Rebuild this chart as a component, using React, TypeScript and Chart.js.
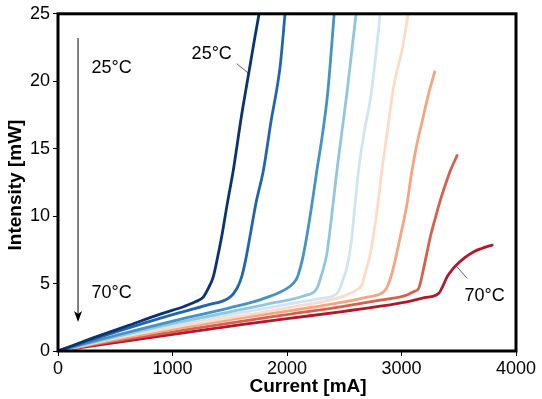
import React, { useEffect, useRef } from "react";
import { Chart, registerables } from "chart.js";

Chart.register(...registerables);

// ---- Data (current in mA, intensity in mW) ----
const seriesLabels = ["25°C", "T2", "T3", "T4", "T5", "T6", "T7", "T8", "70°C"];
const seriesColors = ["#0b3370", "#2166ac", "#4393c3", "#92c5de", "#d1e5f0", "#fddbc7", "#f4a582", "#d6604d", "#b2182b"];

const current1 = [0, 300, 600, 900, 1100, 1200, 1269, 1310, 1356, 1395, 1430, 1480, 1531, 1600, 1662, 1710, 1762];
const intensity1 = [0, 0.95, 1.85, 2.75, 3.3, 3.65, 4.0, 4.6, 5.5, 7.0, 8.5, 11.0, 13.4, 17.3, 20.4, 22.8, 25.3];

const current2 = [0, 500, 1000, 1300, 1502, 1560, 1604, 1640, 1677, 1730, 1794, 1860, 1940, 1986];
const intensity2 = [0, 1.4, 2.7, 3.4, 4.0, 4.6, 5.5, 6.8, 8.5, 11.0, 13.4, 17.0, 21.1, 25.3];

const current3 = [0, 500, 1064, 1500, 1800, 2027, 2080, 2100, 2140, 2173, 2220, 2261, 2300, 2355, 2415];
const intensity3 = [0, 1.15, 2.35, 3.2, 3.9, 4.8, 5.3, 5.7, 7.0, 8.5, 11.0, 13.4, 15.5, 19.1, 25.3];

const current4 = [0, 500, 1064, 1500, 1900, 2150, 2261, 2300, 2348, 2390, 2436, 2480, 2523, 2607];
const intensity4 = [0, 1.05, 2.15, 2.9, 3.6, 4.1, 4.64, 5.6, 7.2, 10.0, 13.4, 16.3, 19.1, 25.3];

const current5 = [0, 500, 1064, 1600, 2000, 2300, 2440, 2490, 2523, 2560, 2590, 2625, 2680, 2727, 2770, 2818];
const intensity5 = [0, 1.0, 2.0, 2.85, 3.45, 3.9, 4.3, 5.3, 6.2, 8.0, 10.5, 13.4, 16.5, 18.6, 21.5, 25.3];

const current6 = [0, 500, 1064, 1600, 2000, 2467, 2600, 2654, 2690, 2727, 2780, 2829, 2880, 2931, 3004, 3065];
const intensity6 = [0, 0.95, 1.85, 2.6, 3.2, 4.0, 4.5, 4.9, 6.0, 7.2, 10.0, 13.4, 16.5, 19.6, 22.3, 25.3];

const current7 = [0, 500, 1064, 1600, 2000, 2500, 2700, 2858, 2900, 2931, 2990, 3048, 3092, 3136, 3180, 3223, 3260, 3290];
const intensity7 = [0, 0.85, 1.7, 2.45, 2.95, 3.65, 4.0, 4.5, 5.3, 6.24, 8.5, 10.9, 13.4, 15.4, 17.0, 18.6, 19.8, 20.7];

const current8 = [0, 500, 1064, 1600, 2000, 2467, 2800, 3048, 3106, 3150, 3190, 3220, 3252, 3300, 3340, 3390, 3428, 3486];
const intensity8 = [0, 0.75, 1.5, 2.2, 2.7, 3.28, 3.75, 4.15, 4.4, 4.64, 6.0, 7.2, 8.47, 10.0, 11.2, 12.5, 13.4, 14.5];

const current9 = [0, 500, 1064, 1600, 2000, 2467, 2800, 3048, 3200, 3325, 3360, 3398, 3440, 3471, 3550, 3631, 3700, 3792];
const intensity9 = [0, 0.62, 1.31, 1.95, 2.4, 2.9, 3.3, 3.65, 3.95, 4.27, 4.8, 5.5, 6.0, 6.3, 6.9, 7.36, 7.6, 7.85];

const currents = [current1, current2, current3, current4, current5, current6, current7, current8, current9];
const intensities = [intensity1, intensity2, intensity3, intensity4, intensity5, intensity6, intensity7, intensity8, intensity9];

const xTicks = [0, 1000, 2000, 3000, 4000];
const yTicks = [0, 5, 10, 15, 20, 25];

const FONT = "'Liberation Sans', Arial, Helvetica, sans-serif";

const overlayPlugin = {
  id: "overlay",
  afterDatasetsDraw(chart: any) {
    const { ctx, chartArea: a, scales } = chart;
    const xs = scales.x;
    const ys = scales.y;
    const px = (v: number) => xs.getPixelForValue(v);
    const py = (v: number) => ys.getPixelForValue(v);
    ctx.save();
    // frame
    ctx.strokeStyle = "#000";
    ctx.lineWidth = 3;
    ctx.strokeRect(a.left, a.top, a.right - a.left, a.bottom - a.top);

    // arrow
    const ax = px(175);
    const ay0 = py(23.2);
    const ay1 = py(2.15);
    ctx.lineWidth = 1;
    ctx.beginPath();
    ctx.moveTo(ax, ay0);
    ctx.lineTo(ax, ay1 - 8);
    ctx.stroke();
    ctx.fillStyle = "#000";
    ctx.beginPath();
    ctx.moveTo(ax, ay1);
    ctx.lineTo(ax - 4, ay1 - 11);
    ctx.lineTo(ax, ay1 - 8);
    ctx.lineTo(ax + 4, ay1 - 11);
    ctx.closePath();
    ctx.fill();

    ctx.font = `18px ${FONT}`;
    ctx.textBaseline = "middle";
    ctx.textAlign = "left";
    ctx.fillText("25°C", px(292), py(20.96));
    ctx.fillText("70°C", px(292), py(4.3));

    // curve labels with leader lines
    ctx.fillText("25°C", px(1167), py(22.05));
    ctx.fillText("70°C", px(3550), py(4.07));
    ctx.lineWidth = 0.8;
    ctx.strokeStyle = "#333";
    ctx.beginPath();
    ctx.moveTo(px(1561), py(21.3));
    ctx.lineTo(px(1662), py(20.6));
    ctx.moveTo(px(3486), py(6.24));
    ctx.lineTo(px(3573), py(5.38));
    ctx.stroke();

    // axis titles
    ctx.fillStyle = "#000";
    ctx.font = `bold 19px ${FONT}`;
    ctx.textAlign = "center";
    ctx.fillText("Current [mA]", 308, 387);
    ctx.translate(16, 185);
    ctx.rotate(-Math.PI / 2);
    ctx.fillText("Intensity [mW]", 0, 0);
    ctx.restore();
  },
};

export default function App() {
  const canvasRef = useRef<HTMLCanvasElement | null>(null);

  useEffect(() => {
    const canvas = canvasRef.current;
    if (!canvas) return;
    const datasets = currents.map((cur, i) => ({
      label: seriesLabels[i],
      data: cur.map((c, j) => ({ x: c, y: intensities[i][j] })),
      borderColor: seriesColors[i],
      backgroundColor: seriesColors[i],
      borderWidth: 2.8,
      pointRadius: 0,
      fill: false,
      cubicInterpolationMode: "monotone" as const,
      borderCapStyle: "round" as const,
      borderJoinStyle: "round" as const,
    }));
    const chart = new Chart(canvas, {
      type: "line",
      data: { datasets },
      options: {
        animation: false,
        responsive: false,
        devicePixelRatio: 1,
        layout: { padding: { top: 13, right: 26, left: 0, bottom: 0 } },
        plugins: {
          legend: { display: false },
          tooltip: { enabled: false },
        },
        scales: {
          x: {
            type: "linear",
            min: xTicks[0],
            max: xTicks[xTicks.length - 1],
            afterBuildTicks: (s: any) => {
              s.ticks = xTicks.map((v) => ({ value: v }));
            },
            afterFit: (s: any) => {
              s.height = 48;
            },
            border: { display: false },
            grid: { drawOnChartArea: false, drawTicks: true, tickLength: 5, color: "#000", lineWidth: 1 },
            ticks: {
              color: "#000",
              padding: 2,
              font: { family: FONT, size: 18 },
              maxRotation: 0,
              callback: (v: any) => String(v),
            },
          },
          y: {
            type: "linear",
            min: yTicks[0],
            max: yTicks[yTicks.length - 1],
            afterBuildTicks: (s: any) => {
              s.ticks = yTicks.map((v) => ({ value: v }));
            },
            afterFit: (s: any) => {
              s.width = 58;
            },
            border: { display: false },
            grid: { drawOnChartArea: false, drawTicks: true, tickLength: 5, color: "#000", lineWidth: 1 },
            ticks: {
              color: "#000",
              padding: 3,
              font: { family: FONT, size: 18 },
              callback: (v: any) => String(v),
            },
          },
        },
      },
      plugins: [overlayPlugin],
    });
    return () => chart.destroy();
  }, []);

  return (
    <div style={{ position: "fixed", left: 0, top: 0, width: 542, height: 399, background: "#fff" }}>
      <canvas ref={canvasRef} width={542} height={399} style={{ width: 542, height: 399, display: "block" }} />
    </div>
  );
}
